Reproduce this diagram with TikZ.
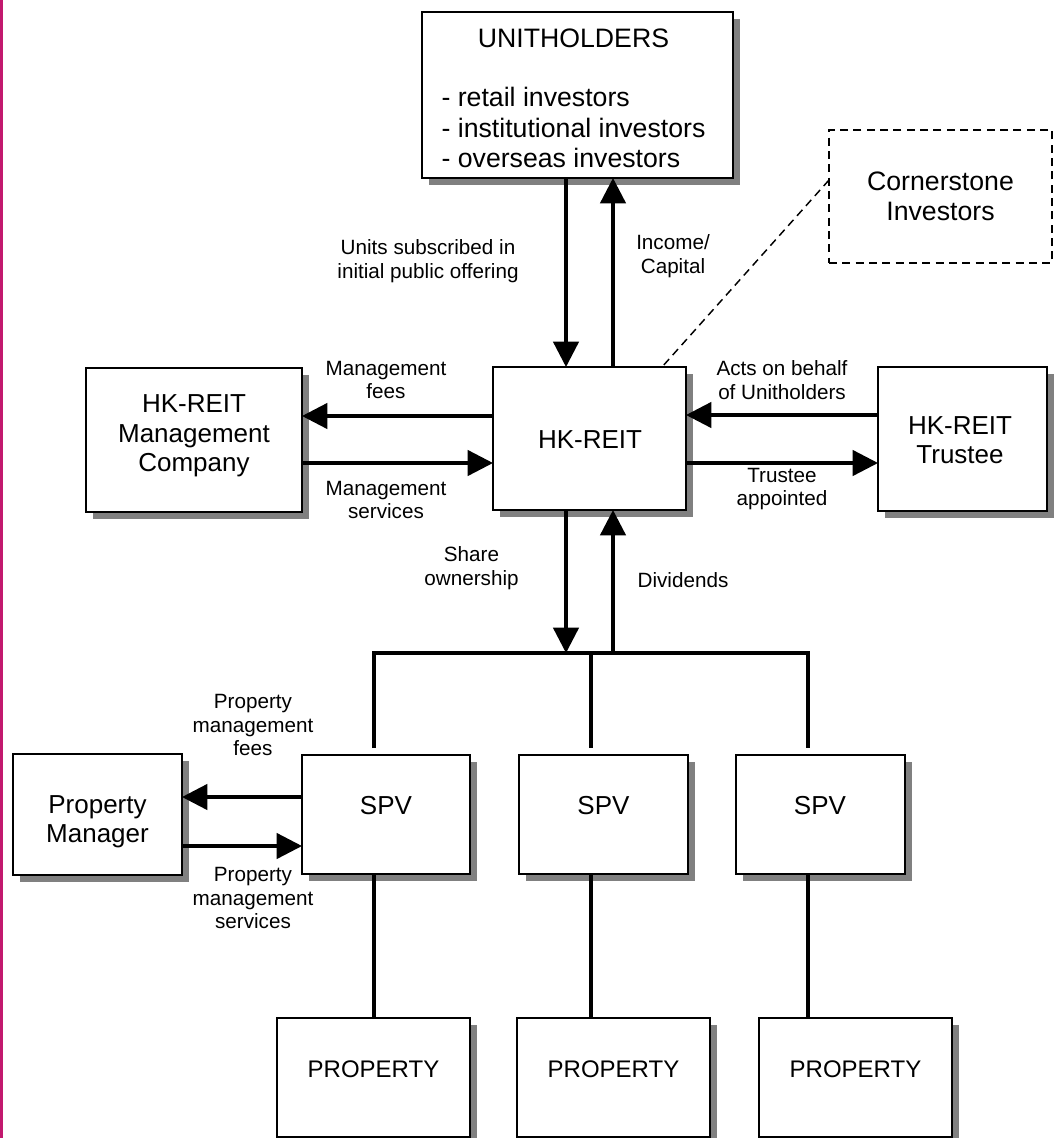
\documentclass[tikz,border=0pt]{standalone}
\usepackage{fontspec}
\setmainfont{Liberation Sans}
\usetikzlibrary{arrows.meta,shadows}
\definecolor{shadowgray}{RGB}{128,128,128}
\definecolor{edgemagenta}{RGB}{194,24,110}
\begin{document}
\begin{tikzpicture}[x=0.75pt,y=-0.75pt,
  box/.style={draw, line width=1.5pt, fill=white, inner sep=0pt, outer sep=0pt,
    general shadow={fill=shadowgray, shadow xshift=5.25pt, shadow yshift=-5.25pt}},
  dbox/.style={draw, line width=1.1pt, dash pattern=on 6pt off 4pt, inner sep=0pt, outer sep=0pt,
    align=center, font=\fontsize{20}{22.5}\selectfont},
  boxtext/.style={font=\fontsize{19.5}{22}\selectfont, align=center, inner sep=0pt},
  proptext/.style={font=\fontsize{18}{22}\selectfont, inner sep=0pt},
  lbl/.style={font=\fontsize{15.5}{17.6}\selectfont, align=center, inner sep=0pt},
  arr/.style={line width=2.5pt, -{Triangle[length=19pt,width=19pt]}},
  conn/.style={line width=2.5pt},
  dline/.style={line width=1.1pt, dash pattern=on 6pt off 4pt}]
\useasboundingbox (0,0) rectangle (1055,1138);
\fill[white] (0,0) rectangle (1055,1138);
\draw[edgemagenta, line width=1.6pt] (1.5,0) -- (1.5,1138);

% boxes
\node[box, minimum width=311*0.75pt, minimum height=166*0.75pt] (unit) at (577.5,95) {};
\node[boxtext] (unitT) at (573.5,101) {\fontsize{20}{22.5}\selectfont\begin{tabular}{@{}l@{}}\multicolumn{1}{@{}c@{}}{UNITHOLDERS}\\ \\ - retail investors\\ - institutional investors\\ - overseas investors\end{tabular}};
\node[dbox, minimum width=223*0.75pt, minimum height=133*0.75pt] (corner) at (940.5,196.5) {Cornerstone\\Investors};
\node[box, minimum width=193*0.75pt, minimum height=143*0.75pt] (reit) at (589.5,438.5) {};
\node[boxtext] (reitT) at (590,440) {HK-REIT};
\node[box, minimum width=216*0.75pt, minimum height=144*0.75pt] (mgmt) at (194,440) {};
\node[boxtext] (mgmtT) at (194,436) {HK-REIT\\Management\\Company};
\node[box, minimum width=169*0.75pt, minimum height=144*0.75pt] (trustee) at (962.5,439) {};
\node[boxtext] (trusteeT) at (960,440) {HK-REIT\\Trustee};
\node[box, minimum width=168*0.75pt, minimum height=119*0.75pt] (spv1) at (386,814.5) {};
\node[box, minimum width=169*0.75pt, minimum height=119*0.75pt] (spv2) at (603.5,814.5) {};
\node[box, minimum width=169*0.75pt, minimum height=119*0.75pt] (spv3) at (820.5,814.5) {};
\node[boxtext] (spv1T) at (386,806) {SPV};
\node[boxtext] (spv2T) at (603.5,806) {SPV};
\node[boxtext] (spv3T) at (820,806) {SPV};
\node[box, minimum width=169*0.75pt, minimum height=121*0.75pt] (pm) at (97.5,814.5) {};
\node[boxtext] (pmT) at (97.5,822) {Property\\Manager};
\node[box, minimum width=193*0.75pt, minimum height=119*0.75pt] (prop1) at (373.5,1077.5) {};
\node[box, minimum width=193*0.75pt, minimum height=119*0.75pt] (prop2) at (613.5,1077.5) {};
\node[box, minimum width=193*0.75pt, minimum height=119*0.75pt] (prop3) at (855.5,1077.5) {};
\node[proptext] (prop1T) at (373.5,1069) {PROPERTY};
\node[proptext] (prop2T) at (613.5,1069) {PROPERTY};
\node[proptext] (prop3T) at (855.5,1069) {PROPERTY};

% helper coordinates
\coordinate (xa) at (566,0);
\coordinate (xb) at (613,0);
\coordinate (ya) at (0,416);
\coordinate (yb) at (0,463);
\coordinate (yc) at (0,415);
\coordinate (yd) at (0,797);
\coordinate (ye) at (0,846);
\coordinate (busL) at (374,653);
\coordinate (busM) at (591,653);
\coordinate (busR) at (808,653);
\coordinate (d1) at (374,748);
\coordinate (d2) at (591,748);
\coordinate (d3) at (808,748);
\coordinate (cs) at (0,180);
\coordinate (xc) at (662,0);

% connectors
\draw[arr] (xa |- unit.south) -- (xa |- reit.north);
\draw[arr] (xb |- reit.north) -- (xb |- unit.south);
\draw[arr] (reit.west |- ya) -- (mgmt.east |- ya);
\draw[arr] (mgmt.east |- yb) -- (reit.west |- yb);
\draw[arr] (trustee.west |- yc) -- (reit.east |- yc);
\draw[arr] (reit.east |- yb) -- (trustee.west |- yb);
\draw[arr] (xa |- reit.south) -- (xa |- busL);
\draw[arr] (xb |- busL) -- (xb |- reit.south);
\draw[conn] (d1) -- (busL) -- (busR) -- (d3);
\draw[conn] (busM) -- (d2);
\draw[conn] (d1 |- spv1.south) -- (d1 |- prop1.north);
\draw[conn] (d2 |- spv2.south) -- (d2 |- prop2.north);
\draw[conn] (d3 |- spv3.south) -- (d3 |- prop3.north);
\draw[arr] (spv1.west |- yd) -- (pm.east |- yd);
\draw[arr] (pm.east |- ye) -- (spv1.west |- ye);
\draw[dline] (corner.west |- cs) -- (xc |- reit.north);

% labels
\node[lbl] (l1) at (428,261) {Units subscribed in\\initial public offering};
\node[lbl] (l2) at (673,256) {Income/\\Capital};
\node[lbl] (l3) at (386,380) {Management\\fees};
\node[lbl] (l4) at (386,500) {Management\\services};
\node[lbl] (l5) at (782,380) {Acts on behalf\\of Unitholders};
\node[lbl] (l6) at (782,489) {Trustee\\appointed};
\node[lbl] (l7) at (471.5,568) {Share\\ownership};
\node[lbl] (l8) at (683,580) {Dividends};
\node[lbl] (l9) at (253,725) {Property\\management\\fees};
\node[lbl] (l10) at (253,898) {Property\\management\\services};
\end{tikzpicture}
\end{document}
